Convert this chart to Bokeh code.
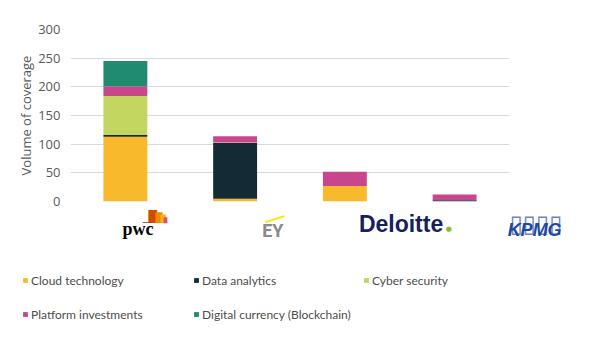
from bokeh.plotting import figure
from bokeh.layouts import column
from bokeh.models import FactorRange, Range1d, FixedTicker, Legend, LegendItem, ColumnDataSource
from bokeh.core.properties import value
from bokeh.embed import file_html
from bokeh.resources import INLINE

# ---- data ----
companies = ["PwC", "EY", "Deloitte", "KPMG"]
series_names = ["Cloud technology", "Data analytics", "Cyber security",
                "Platform investments", "Digital currency (Blockchain)"]
cloud = [113, 5, 27, 0]
data_analytics = [3, 97, 0, 2]
cyber = [68, 1, 0, 0]
platform = [17, 11, 25, 10]
digital = [44, 0, 0, 0]
y_ticks = [0, 50, 100, 150, 200, 250, 300]
y_title = "Volume of coverage"
logo_texts = ["pwc", "EY", "Deloitte", "KPMG"]

colors = ["#F8B92C", "#142A35", "#C3D660", "#C8468C", "#208B6F"]
keys = ["cloud", "data", "cyber", "platform", "digital"]

source = ColumnDataSource(dict(company=companies, cloud=cloud, data=data_analytics,
                               cyber=cyber, platform=platform, digital=digital))

# ---- main chart ----
p = figure(x_range=FactorRange(*companies), y_range=Range1d(0, 300),
           width=614, height=209, output_backend="svg", toolbar_location=None,
           x_axis_location=None, min_border_left=70, min_border_right=105,
           min_border_top=29, min_border_bottom=8, frame_align=False)
p.outline_line_color = None
p.xgrid.grid_line_color = None
p.ygrid.grid_line_color = "#d9d9d9"
p.ygrid.grid_line_width = 1
p.yaxis.ticker = FixedTicker(ticks=y_ticks)
p.yaxis.axis_line_color = None
p.yaxis.major_tick_line_color = None
p.yaxis.minor_tick_line_color = None
p.yaxis.major_tick_out = 0
p.yaxis.major_tick_in = 0
p.yaxis.minor_tick_out = 0
p.yaxis.major_label_standoff = 10
p.yaxis.major_label_text_font = "Open Sans"
p.yaxis.major_label_text_font_size = "13px"
p.yaxis.major_label_text_color = "#595959"
p.yaxis.axis_label = y_title
p.yaxis.axis_label_standoff = 0
p.yaxis.axis_label_text_font = "Open Sans"
p.yaxis.axis_label_text_font_size = "13px"
p.yaxis.axis_label_text_font_style = "normal"
p.yaxis.axis_label_text_color = "#595959"

p.vbar_stack(keys, x="company", width=0.4, source=source,
             fill_color=colors, line_color=None)

# ---- lower strip: logos + legend ----
q = figure(x_range=FactorRange(*companies, range_padding=70 / 109.75,
                               range_padding_units="absolute"),
           y_range=Range1d(-142, 0), width=614, height=142, output_backend="svg",
           toolbar_location=None, x_axis_location=None, y_axis_location=None,
           min_border_left=0, min_border_right=35, min_border_top=0, min_border_bottom=0,
           frame_align=False)
q.outline_line_color = None
q.xgrid.grid_line_color = None
q.ygrid.grid_line_color = None

# hidden copies of the stacks, used only as legend keys
rs = q.vbar_stack(keys, x="company", width=0.4, source=source,
                  fill_color=colors, line_color=None)
for r in rs:
    r.visible = False

leg_font = "Lato"
groups = [([0, 3], (22, 27)), ([1, 4], (193, 27)), ([2], (363, 61))]
for idx, loc in groups:
    leg = Legend(items=[LegendItem(label=series_names[i], renderers=[rs[i]]) for i in idx],
                 location=loc, orientation="vertical", glyph_width=6, glyph_height=6,
                 label_standoff=3, spacing=14, label_height=20, padding=0, margin=0,
                 border_line_color=None, background_fill_alpha=0,
                 inactive_fill_alpha=0,
                 label_text_font=leg_font, label_text_font_size="12px",
                 label_text_color="#4d4d4d")
    q.add_layout(leg)

TOP = 209  # canvas row where the lower strip begins


def logo(cat, txt, dx, cy, font, size, color, style="normal", align="left", angle=0):
    q.text(x=[cat], y=[0], text=[txt], x_offset=dx, y_offset=cy - TOP, angle=angle,
           text_font=value(font), text_font_size=size, text_color=color,
           text_font_style=style, text_align=align, text_baseline="middle")

# PwC
logo(companies[0], "\u2588", 23, 216, "DejaVu Sans", "11px", "#D04A02")
logo(companies[0], "\u2588", 30, 217, "DejaVu Sans", "9px", "#EB8C00")
logo(companies[0], "\u2588", 35, 218, "DejaVu Sans", "7px", "#FFB600")
logo(companies[0], "\u2588", 38, 219, "DejaVu Sans", "5px", "#DB536A")
logo(companies[0], "\u2014", 17, 221, "Liberation Sans", "8px", "#C0281E", style="bold")
logo(companies[0], logo_texts[0], -3, 228, "Liberation Serif", "18px", "#000000", style="bold")
# EY
logo(companies[1], "\u2501\u2501\u2501", 40, 219, "DejaVu Sans", "11px", "#FFE600",
     align="center", angle=0.3)
logo(companies[1], logo_texts[1], 27, 230, "Roboto", "18px", "#8a8a8a", style="bold")
# Deloitte
logo(companies[2], logo_texts[2], 14, 223, "Liberation Sans", "23px", "#142060", style="bold")
logo(companies[2], "\u25CF", 104, 228, "DejaVu Sans", "7px", "#86BC25", align="center")
# KPMG
logo(companies[3], "\u25AF\u25AF\u25AF\u25AF", 55, 223, "DejaVu Sans", "24px", "#7084bb")
logo(companies[3], logo_texts[3], 53, 229, "Liberation Sans", "18px", "#1E49A0", style="bold italic")

open("out.html", "w").write(file_html(column(p, q), INLINE))
